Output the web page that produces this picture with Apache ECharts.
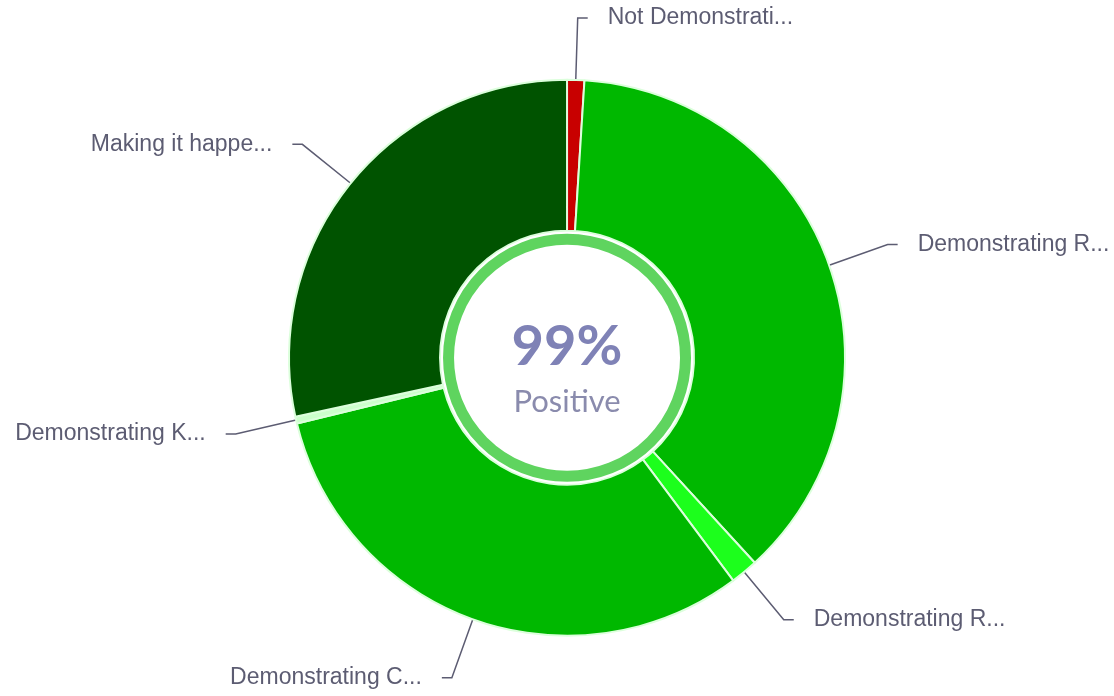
<!DOCTYPE html>
<html>
<head>
<meta charset="utf-8">
<script src="https://cdn.jsdelivr.net/npm/echarts@6/dist/echarts.min.js"></script>
<style>
  html, body { margin: 0; padding: 0; background: #fff; }
  #main { width: 1114px; height: 696px; }
</style>
</head>
<body>
<div id="main"></div>
<script>
// labels as shown on the chart (already truncated)
var categories = ['Not Demonstrati...', 'Demonstrating R...', 'Demonstrating R...', 'Demonstrating C...', 'Demonstrating K...', 'Making it happe...'];
var shares = [1.0, 37.2, 1.6, 31.4, 0.4, 28.4];
var sliceColors = ['#c80000', '#00b800', '#1cff1c', '#00b800', '#ccffcc', '#005300'];
var negativeIndex = 0; // "Not Demonstrating" is the only negative bucket

var myChart = echarts.init(document.getElementById('main'));

var total = 0;
for (var i = 0; i < shares.length; i++) total += shares[i];
var positivePct = Math.round((total - shares[negativeIndex]) / total * 100);

var pieData = [];
for (var i = 0; i < categories.length; i++) {
    pieData.push({
        name: categories[i],
        value: shares[i],
        itemStyle: { color: sliceColors[i] }
    });
}

var option = {
    backgroundColor: '#fff',
    animation: false,
    series: [
        {
            type: 'pie',
            center: ['50.9%', '51.4%'],
            radius: [127, 278],
            startAngle: 90,
            clockwise: true,
            avoidLabelOverlap: false,
            itemStyle: {
                borderColor: '#dcffdc',
                borderWidth: 2
            },
            label: {
                show: true,
                formatter: '{b}',
                color: '#5c5c72',
                fontSize: 23,
                fontFamily: 'Liberation Sans, Arial, sans-serif',
                distanceToLabelLine: 20
            },
            labelLine: {
                show: true,
                length: 62,
                length2: 10,
                lineStyle: { color: '#5c5c72', width: 1.5 }
            },
            data: pieData
        },
        {
            // inner ring holding the headline number
            type: 'pie',
            center: ['50.9%', '51.4%'],
            radius: [112, 125],
            silent: true,
            itemStyle: {
                color: '#5fd45f',
                borderColor: '#ffffff',
                borderWidth: 2
            },
            label: {
                show: true,
                position: 'center',
                offset: [0, 12],
                formatter: function () {
                    return '{big|' + positivePct + '%}\n{small|Positive}';
                },
                rich: {
                    big: {
                        fontSize: 56,
                        fontWeight: 'bold',
                        color: '#7f82b6',
                        fontFamily: 'Lato, sans-serif',
                        lineHeight: 64
                    },
                    small: {
                        fontSize: 31,
                        color: '#8a8bad',
                        fontFamily: 'Lato, sans-serif',
                        lineHeight: 46
                    }
                }
            },
            labelLine: { show: false },
            data: [{ name: 'ring', value: 1 }]
        }
    ]
};

myChart.setOption(option);
window.onresize = function () {
    myChart.resize();
};
</script>
</body>
</html>
